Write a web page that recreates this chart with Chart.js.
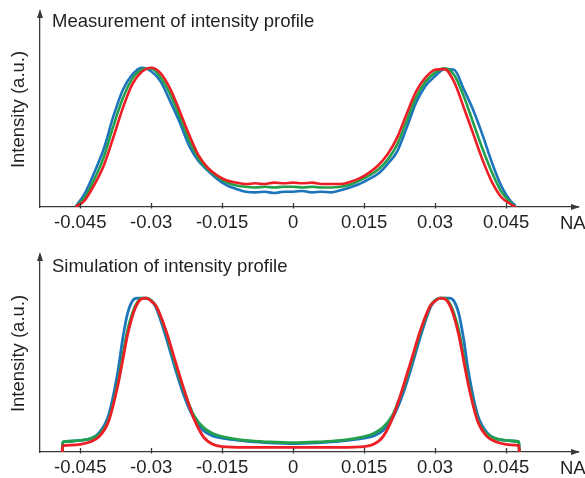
<!DOCTYPE html>
<html>
<head>
<meta charset="utf-8">
<title>Intensity profiles</title>
<script src="https://cdn.jsdelivr.net/npm/chart.js@4.4.1/dist/chart.umd.min.js"></script>
<style>
  html, body { margin: 0; padding: 0; background: #fff; }
  #wrap { position: relative; width: 585px; height: 478px; }
  canvas { position: absolute; left: 0; display: block; }
  #measCanvas { top: 0; }
  #simCanvas { top: 240px; }
</style>
</head>
<body>
<div id="wrap">
  <canvas id="measCanvas" width="585" height="240"></canvas>
  <canvas id="simCanvas" width="585" height="238"></canvas>
</div>
<script>
// x axis ticks (numerical aperture)
const tickValues = [-0.045, -0.03, -0.015, 0, 0.015, 0.03, 0.045];
const tickLabels = ['-0.045', '-0.03', '-0.015', '0', '0.015', '0.03', '0.045'];

// measured profiles
const measNA = [-0.046, -0.044, -0.042, -0.040, -0.038, -0.036, -0.034, -0.032, -0.030, -0.028,
  -0.026, -0.024, -0.022, -0.020, -0.018, -0.016, -0.014, -0.012, -0.010, -0.008,
  -0.006, -0.004, -0.002, 0, 0.002, 0.004, 0.006, 0.008, 0.010, 0.012,
  0.014, 0.016, 0.018, 0.020, 0.022, 0.024, 0.026, 0.028, 0.030, 0.032,
  0.034, 0.036, 0.038, 0.040, 0.042, 0.044, 0.046, 0.047];
const measBlue = [0.00, 0.10, 0.25, 0.42, 0.65, 0.84, 0.95, 1.00, 0.975, 0.90,
  0.76, 0.61, 0.44, 0.33, 0.26, 0.20, 0.155, 0.13, 0.11, 0.105,
  0.11, 0.10, 0.11, 0.11, 0.115, 0.105, 0.11, 0.105, 0.12, 0.14,
  0.165, 0.20, 0.24, 0.31, 0.40, 0.57, 0.75, 0.87, 0.94, 0.99,
  0.985, 0.85, 0.70, 0.52, 0.32, 0.15, 0.04, 0.01];
const measGreen = [0.00, 0.07, 0.20, 0.36, 0.58, 0.78, 0.92, 0.985, 0.995, 0.93,
  0.81, 0.65, 0.48, 0.35, 0.27, 0.215, 0.175, 0.155, 0.145, 0.14,
  0.145, 0.14, 0.145, 0.145, 0.14, 0.145, 0.14, 0.14, 0.145, 0.16,
  0.19, 0.225, 0.27, 0.34, 0.45, 0.62, 0.79, 0.90, 0.965, 0.995,
  0.95, 0.80, 0.61, 0.42, 0.25, 0.11, 0.03, 0.00];
const measRed = [0.00, 0.05, 0.16, 0.30, 0.50, 0.71, 0.88, 0.97, 1.00, 0.96,
  0.85, 0.69, 0.52, 0.37, 0.28, 0.225, 0.19, 0.175, 0.165, 0.17,
  0.165, 0.175, 0.17, 0.175, 0.17, 0.175, 0.165, 0.165, 0.165, 0.18,
  0.205, 0.245, 0.30, 0.38, 0.50, 0.67, 0.83, 0.93, 0.985, 0.99,
  0.90, 0.72, 0.53, 0.34, 0.18, 0.07, 0.02, 0.00];

// simulated profiles
const simNA = [-0.0488, -0.0487, -0.047, -0.045, -0.043, -0.041, -0.039, -0.037, -0.036, -0.035,
  -0.034, -0.033, -0.032, -0.031, -0.030, -0.029, -0.027, -0.025, -0.023, -0.021,
  -0.019, -0.017, -0.015, -0.010, -0.005, 0, 0.005, 0.010, 0.015, 0.017,
  0.019, 0.021, 0.023, 0.025, 0.027, 0.029, 0.030, 0.031, 0.032, 0.033,
  0.034, 0.035, 0.036, 0.037, 0.039, 0.041, 0.043, 0.045, 0.047, 0.0477, 0.0478];
const simBlue = [0, 0.065, 0.07, 0.075, 0.085, 0.125, 0.24, 0.53, 0.74, 0.90,
  0.98, 1.0, 1.0, 1.0, 0.985, 0.94, 0.76, 0.55, 0.36, 0.22,
  0.14, 0.105, 0.09, 0.07, 0.06, 0.055, 0.06, 0.07, 0.09, 0.105,
  0.14, 0.22, 0.36, 0.55, 0.76, 0.94, 0.985, 1.0, 1.0, 1.0,
  0.98, 0.90, 0.74, 0.53, 0.24, 0.125, 0.085, 0.075, 0.07, 0.065, 0];
const simGreen = [0, 0.065, 0.07, 0.075, 0.085, 0.115, 0.21, 0.46, 0.63, 0.79,
  0.90, 0.97, 1.0, 1.0, 0.985, 0.95, 0.79, 0.58, 0.39, 0.24,
  0.16, 0.12, 0.10, 0.075, 0.065, 0.06, 0.065, 0.075, 0.10, 0.12,
  0.16, 0.24, 0.39, 0.58, 0.79, 0.95, 0.985, 1.0, 1.0, 0.97,
  0.90, 0.79, 0.63, 0.46, 0.21, 0.115, 0.085, 0.075, 0.07, 0.065, 0];
const simRed = [0, 0.04, 0.045, 0.05, 0.065, 0.10, 0.20, 0.44, 0.60, 0.76,
  0.88, 0.96, 0.995, 1.0, 0.98, 0.95, 0.80, 0.60, 0.40, 0.22,
  0.10, 0.05, 0.035, 0.03, 0.03, 0.03, 0.03, 0.03, 0.035, 0.05,
  0.10, 0.22, 0.40, 0.60, 0.80, 0.95, 0.98, 1.0, 0.995, 0.96,
  0.88, 0.76, 0.60, 0.44, 0.20, 0.10, 0.065, 0.05, 0.045, 0.04, 0];

const BLUE = '#1c74bc';
const GREEN = '#22a04b';
const RED = '#ec1f26';
const INK = '#231f20';
const AXIS = '#3a3a3a';
const FONT = '"Liberation Sans", Arial, Helvetica, sans-serif';

function points(xs, ys) {
  return xs.map((x, i) => ({ x: x, y: ys[i] }));
}

// arrows, crossing tick marks, heading and the NA unit label
const axisDecor = {
  id: 'axisDecor',
  afterDraw(chart, args, opts) {
    const ctx = chart.ctx;
    const area = chart.chartArea;
    const xs = chart.scales.x;
    const axisY = area.bottom;
    ctx.save();
    ctx.fillStyle = AXIS;
    ctx.strokeStyle = AXIS;
    ctx.lineWidth = 1.3;
    // y arrow
    ctx.beginPath();
    ctx.moveTo(area.left, area.top - 3);
    ctx.lineTo(area.left - 3, area.top + 6);
    ctx.lineTo(area.left + 3, area.top + 6);
    ctx.closePath();
    ctx.fill();
    // x arrow
    ctx.beginPath();
    ctx.moveTo(area.right + 2, axisY);
    ctx.lineTo(area.right - 7, axisY - 3);
    ctx.lineTo(area.right - 7, axisY + 3);
    ctx.closePath();
    ctx.fill();
    // tick marks
    xs.ticks.forEach(t => {
      const px = Math.round(xs.getPixelForValue(t.value)) + 0.5;
      ctx.beginPath();
      ctx.moveTo(px, axisY - 4);
      ctx.lineTo(px, axisY + 1.5);
      ctx.stroke();
    });
    ctx.fillStyle = INK;
    ctx.font = '18.5px ' + FONT;
    ctx.textBaseline = 'alphabetic';
    ctx.textAlign = 'left';
    ctx.fillText(opts.heading, 52, opts.headingY);
    ctx.fillText('NA', 560, axisY + 22);
    ctx.restore();
  }
};

function makeProfileChart(canvasId, heading, headingY, xs, blue, green, red, yMax, topPad, axisHeight, width) {
  const lineStyle = {
    fill: false,
    borderWidth: width,
    pointRadius: 0,
    cubicInterpolationMode: 'monotone'
  };
  return new Chart(document.getElementById(canvasId), {
    type: 'line',
    data: {
      datasets: [
        Object.assign({ label: 'red', data: points(xs, red), borderColor: RED }, lineStyle),
        Object.assign({ label: 'green', data: points(xs, green), borderColor: GREEN }, lineStyle),
        Object.assign({ label: 'blue', data: points(xs, blue), borderColor: BLUE }, lineStyle)
      ]
    },
    options: {
      responsive: false,
      animation: false,
      devicePixelRatio: 1,
      layout: { padding: { top: topPad, right: 7, left: 0, bottom: 0 } },
      plugins: {
        legend: { display: false },
        tooltip: { enabled: false },
        axisDecor: { heading: heading, headingY: headingY }
      },
      scales: {
        x: {
          type: 'linear',
          min: -0.0535,
          max: 0.0602,
          afterBuildTicks: s => { s.ticks = tickValues.map(v => ({ value: v })); },
          afterFit: s => { s.height = axisHeight; },
          grid: { display: false, drawTicks: false },
          border: { display: true, color: AXIS, width: 1.3 },
          ticks: {
            autoSkip: false,
            maxRotation: 0,
            padding: 5,
            color: INK,
            font: { family: FONT, size: 18.5 },
            callback: (v, i) => tickLabels[i]
          }
        },
        y: {
          min: 0,
          max: yMax,
          afterFit: s => { s.width = 40; },
          grid: { display: false, drawTicks: false },
          border: { display: true, color: AXIS, width: 1.3 },
          ticks: { display: false },
          title: {
            display: true,
            text: 'Intensity (a.u.)',
            color: INK,
            font: { family: FONT, size: 18.5 },
            padding: { top: 8, bottom: 0 }
          }
        }
      }
    },
    plugins: [axisDecor]
  });
}

makeProfileChart('measCanvas', 'Measurement of intensity profile', 27,
  measNA, measBlue, measGreen, measRed, 1.4, 12, 33, 2.6);
makeProfileChart('simCanvas', 'Simulation of intensity profile', 32,
  simNA, simBlue, simGreen, simRed, 1.28, 15, 26, 2.8);
</script>
</body>
</html>
